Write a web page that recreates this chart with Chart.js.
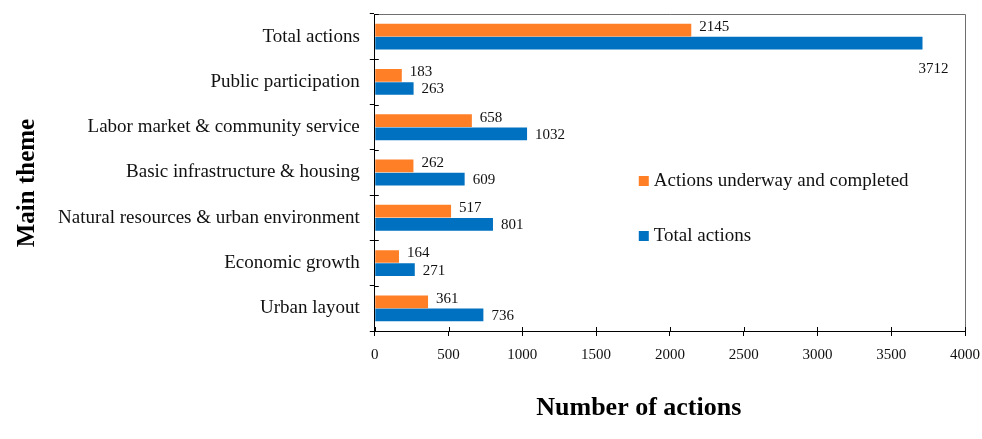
<!DOCTYPE html>
<html>
<head>
<meta charset="utf-8">
<script src="https://cdn.jsdelivr.net/npm/chart.js@4/dist/chart.umd.min.js"></script>
<style>
  html, body { margin: 0; padding: 0; background: #fff; }
  #wrap { width: 982px; height: 439px; position: relative; }
</style>
</head>
<body>
<div id="wrap"><canvas id="chart"></canvas></div>
<script>
// chart data
const themes = [
  "Total actions",
  "Public participation",
  "Labor market & community service",
  "Basic infrastructure & housing",
  "Natural resources & urban environment",
  "Economic growth",
  "Urban layout"
];
const underwayCompleted = [2145, 183, 658, 262, 517, 164, 361];
const totalActions = [3712, 263, 1032, 609, 801, 271, 736];
const seriesNames = ["Actions underway and completed", "Total actions"];
const xTicks = [0, 500, 1000, 1500, 2000, 2500, 3000, 3500, 4000];
const xTitle = "Number of actions";
const yTitle = "Main theme";

const SERIF = "'Liberation Serif', 'Times New Roman', serif";
const ORANGE = "#ff7f27";
const BLUE = "#0070c0";

// value labels next to each bar end
const valueLabels = {
  id: "valueLabels",
  afterDatasetsDraw(chart) {
    const ctx = chart.ctx;
    const xMax = chart.scales.x.max;
    ctx.save();
    ctx.font = "15px " + SERIF;
    ctx.fillStyle = "#111";
    ctx.textBaseline = "middle";
    ctx.textAlign = "left";
    chart.data.datasets.forEach((ds, i) => {
      chart.getDatasetMeta(i).data.forEach((bar, j) => {
        const v = ds.data[j];
        let x = bar.x + 8;
        let y = i === 0 ? bar.y - 3 : bar.y + 1;
        if (v > xMax * 0.9) {
          // no room on the right: put it under the bar
          x = bar.x - 4;
          y = bar.y + 26;
        }
        ctx.fillText(String(v), x, y);
      });
    });
    ctx.restore();
  }
};

// frame on top/right, tick stubs inside, legend and axis titles
const frameAndLegend = {
  id: "frameAndLegend",
  afterDraw(chart) {
    const ctx = chart.ctx;
    const a = chart.chartArea;
    ctx.save();
    ctx.strokeStyle = "#6f6f6f";
    ctx.lineWidth = 1;
    ctx.beginPath();
    ctx.moveTo(a.left, a.top + 0.5);
    ctx.lineTo(a.right + 0.5, a.top + 0.5);
    ctx.lineTo(a.right + 0.5, a.bottom);
    ctx.stroke();

    ctx.strokeStyle = "#000";
    ctx.beginPath();
    for (let k = 0; k <= themes.length; k++) {
      const y = Math.round(a.top + (a.bottom - a.top) * k / themes.length) + 0.5;
      ctx.moveTo(a.left, y);
      ctx.lineTo(a.left + 4, y);
    }
    const xs = chart.scales.x;
    xTicks.forEach(v => {
      const x = Math.round(xs.getPixelForValue(v)) + 0.5;
      ctx.moveTo(x, a.bottom);
      ctx.lineTo(x, a.bottom - 4);
    });
    ctx.stroke();

    // legend inside the plot
    ctx.font = "19px " + SERIF;
    ctx.textBaseline = "middle";
    ctx.textAlign = "left";
    const lx = a.left + 264;
    const lys = [a.top + 166, a.top + 221];
    chart.data.datasets.forEach((ds, i) => {
      ctx.fillStyle = ds.backgroundColor;
      ctx.fillRect(lx, lys[i] - 4, 10, 10);
      ctx.fillStyle = "#111";
      ctx.fillText(ds.label, lx + 15, lys[i] + 1);
    });

    // axis titles
    ctx.fillStyle = "#000";
    ctx.textAlign = "center";
    ctx.font = "bold 26px " + SERIF;
    ctx.fillText(xTitle, a.left + 264, 408);
    ctx.translate(28, 183);
    ctx.rotate(-Math.PI / 2);
    ctx.font = "bold 25px " + SERIF;
    ctx.fillText(yTitle, 0, 0);
    ctx.restore();
  }
};

new Chart(document.getElementById("chart"), {
  type: "bar",
  data: {
    labels: themes,
    datasets: [
      {
        label: seriesNames[0],
        data: underwayCompleted,
        backgroundColor: ORANGE,
        categoryPercentage: 0.58,
        barPercentage: 0.97
      },
      {
        label: seriesNames[1],
        data: totalActions,
        backgroundColor: BLUE,
        categoryPercentage: 0.58,
        barPercentage: 0.97
      }
    ]
  },
  plugins: [valueLabels, frameAndLegend],
  options: {
    indexAxis: "y",
    responsive: true,
    maintainAspectRatio: false,
    animation: false,
    layout: { padding: { top: 14, left: 48, right: 0, bottom: 65 } },
    plugins: {
      legend: { display: false },
      tooltip: { enabled: false }
    },
    scales: {
      x: {
        min: 0,
        max: 4000,
        afterBuildTicks(scale) {
          scale.ticks = xTicks.map(v => ({ value: v }));
        },
        afterFit(scale) {
          scale.paddingRight = 17;
        },
        grid: { drawOnChartArea: false, tickLength: 5, color: "#000" },
        border: { color: "#000" },
        ticks: {
          color: "#111",
          font: { family: SERIF, size: 15 },
          padding: 10,
          callback: v => String(v)
        }
      },
      y: {
        afterFit(scale) {
          scale.paddingTop = 0;
          scale.paddingBottom = 0;
        },
        grid: { drawOnChartArea: false, tickLength: 5, color: "#000" },
        border: { color: "#000" },
        ticks: { color: "#111", font: { family: SERIF, size: 19 }, padding: 10 }
      }
    }
  }
});
</script>
</body>
</html>
